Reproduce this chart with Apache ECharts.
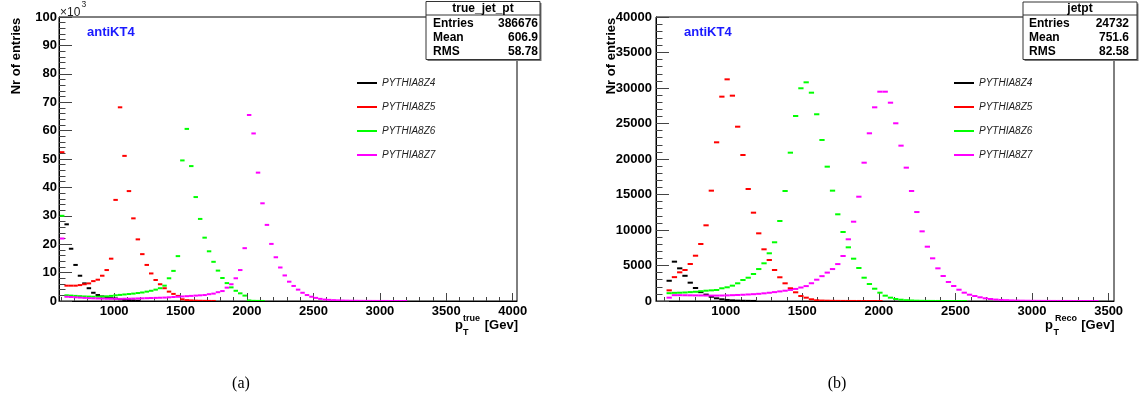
<!DOCTYPE html>
<html>
<head>
<meta charset="utf-8">
<script src="https://cdn.jsdelivr.net/npm/echarts@6/dist/echarts.min.js"></script>
<style>
  html, body { margin: 0; padding: 0; background: #ffffff; }
  #chart { width: 1142px; height: 406px; }
</style>
</head>
<body>
<div id="chart"></div>
<script>
// ---------------------------------------------------------------
// Jet pT spectra per PYTHIA8 slice, anti-kT R=0.4
// (a) truth jets, (b) reconstructed jets
// ---------------------------------------------------------------
const seriesNames  = ['PYTHIA8Z4', 'PYTHIA8Z5', 'PYTHIA8Z6', 'PYTHIA8Z7'];
const seriesColors = ['#000000', '#ff0000', '#00ff00', '#ff00ff'];

// panel (a): truth pT histogram, bin centres start at trueFirstBin
const trueFirstBin = 609;
const trueBinWidth = 33.5;
const trueZ4 = [null, 27000, 18400, 12700, 8900, 6200, 4500, 2900, 2100, 1600, 1200, 1000, 900, 600, 400, 300, 200, 100];
const trueZ5 = [52400, 5400, 5400, 5400, 5600, 5900, 6200, 7000, 7500, 8900, 10900, 14900, 35600, 68200, 51100, 38700,
                29100, 21700, 16500, 12700, 9700, 7400, 5900, 4500, 3300, 2500, 1800, 600, 300, 200, 120, 80, 50, 30, 20];
const trueZ6 = [30000, 2000, 1900, 1800, 1700, 1600, 1550, 1500, 1500, 1550, 1650, 1800, 2000, 2150, 2300, 2450,
                2600, 2800, 3000, 3300, 3600, 4000, 4500, 5400, 8000, 10600, 15800, 49500, 60600, 47500, 36600, 28900,
                22300, 17500, 13800, 10700, 8100, 6300, 4800, 3600, 2700, 1900, 200, 60, 30, 15];
const trueZ7 = [22000, 1500, 1400, 1300, 1200, 1100, 1000, 950, 900, 850, 800, 800, 750, 750, 800, 800,
                850, 900, 950, 1000, 1050, 1100, 1150, 1200, 1300, 1400, 1500, 1600, 1700, 1800, 1900, 2000,
                2100, 2400, 2600, 3100, 3500, 4700, 5900, 8000, 10900, 18600, 65500, 59000, 45200, 34400, 26800, 20100,
                15400, 11800, 9000, 6800, 5300, 4000, 2900, 2100, 1500, 1100, 750, 500, 400, 300, 220, 160,
                120, 90, 70, 55, 45, 35, 28, 22, 17, 13, 10, 8, 6, 4];

// panel (b): reconstructed pT histogram
const recoFirstBin = 631;
const recoBinWidth = 34.4;
const recoZ4 = [2850, 5540, 4600, 3550, 2580, 1830, 1250, 900, 600, 380, 240, 150, 90, 50, 30, 20, 10];
const recoZ5 = [1500, 3360, 4040, 4370, 5210, 6380, 8030, 10660, 15540, 22350, 28780, 31220, 28920, 24550, 20560, 15775,
                12440, 9530, 7280, 5775, 4370, 3340, 2490, 1790, 1225, 700, 470, 240, 100, 60, 40, 25,
                15, 10, 8, 6, 5, 4, 3, 2, 2];
const recoZ6 = [1100, 1150, 1170, 1200, 1250, 1300, 1380, 1450, 1500, 1550, 1790, 1930, 2160, 2490, 2960, 3280,
                3800, 4500, 5310, 6720, 8270, 11270, 15490, 20890, 26060, 29960, 30800, 29340, 26300, 22680, 18920, 15540,
                12210, 9720, 7560, 5960, 4650, 3280, 2390, 1730, 1170, 750, 470, 280, 180, 110, 70, 40,
                25, 15, 10, 6, 4, 3, 2, 2, 1];
const recoZ7 = [470, 820, 820, 810, 800, 790, 780, 770, 760, 760, 770, 790, 820, 850, 880, 920,
                960, 1010, 1080, 1160, 1250, 1350, 1450, 1560, 1700, 1900, 2100, 2500, 3000, 3500, 4000, 4500,
                5200, 6340, 8690, 11170, 14690, 19480, 23620, 27280, 29480, 29480, 27930, 25030, 21880, 18780, 15490, 12530,
                9810, 7650, 6010, 4600, 3520, 2680, 2110, 1590, 1170, 890, 700, 520, 380, 280, 200, 150,
                110, 80, 60, 45, 35, 25, 20, 15, 12, 10, 8, 6, 5, 4, 3, 2, 2, 1];

// axis tick labels
const trueTicks = [1000, 1500, 2000, 2500, 3000, 3500, 4000];
const recoTicks = [1000, 1500, 2000, 2500, 3000, 3500];

// statistics boxes
const trueStats = { title: 'true_jet_pt', rows: [['Entries', '386676'], ['Mean', '606.9'], ['RMS', '58.78']] };
const recoStats = { title: 'jetpt',       rows: [['Entries', '24732'],  ['Mean', '751.6'], ['RMS', '82.58']] };

// ---------------------------------------------------------------
const FONT = '"Liberation Sans", Arial, Helvetica, sans-serif';
const SERIF = '"Liberation Serif", "Times New Roman", serif';

function binned(first, width, values) {
  const out = [];
  values.forEach((v, i) => { if (v != null) out.push([first + i * width, v]); });
  return out;
}

function minorTicks(from, to, step) {
  const t = [];
  for (let v = from; v <= to; v += step) t.push(v);
  return t;
}

function histSeries(name, color, data, axisIndex, width) {
  return {
    type: 'custom',
    name: name,
    xAxisIndex: axisIndex * 2,
    yAxisIndex: axisIndex,
    data: data,
    clip: true,
    z: 5,
    itemStyle: { color: color },
    encode: { x: 0, y: 1 },
    renderItem: function (params, api) {
      const x = api.value(0), y = api.value(1);
      const a = api.coord([x - width / 2, y]);
      const b = api.coord([x + width / 2, y]);
      return {
        type: 'line',
        shape: { x1: a[0], y1: a[1], x2: b[0], y2: b[1] },
        style: { stroke: color, lineWidth: 2 }
      };
    }
  };
}

function xAxes(gridIndex, min, max, ticks) {
  return [
    {
      type: 'value', gridIndex: gridIndex, min: min, max: max, position: 'bottom',
      axisLine: { show: true, lineStyle: { color: '#000', width: 1 } },
      axisTick: { show: true, inside: true, length: 8, customValues: ticks, lineStyle: { color: '#444', width: 1 } },
      axisLabel: { customValues: ticks, margin: 4, fontSize: 13, fontWeight: 'bold', color: '#000', fontFamily: FONT,
                   formatter: v => String(v) },
      splitLine: { show: false }
    },
    {
      type: 'value', gridIndex: gridIndex, min: min, max: max, position: 'bottom',
      axisLine: { show: false },
      axisTick: { show: true, inside: true, length: 4, customValues: minorTicks(600, 4000, 100), lineStyle: { color: '#444', width: 1 } },
      axisLabel: { show: false },
      splitLine: { show: false }
    }
  ];
}

function yAxis(gridIndex, max, interval, margin, formatter) {
  return {
    type: 'value', gridIndex: gridIndex, min: 0, max: max, interval: interval,
    axisLine: { show: true, lineStyle: { color: '#000', width: 1 } },
    axisTick: { show: true, inside: true, length: 13, lineStyle: { color: '#444', width: 1 } },
    minorTick: { show: true, splitNumber: 5, length: 6.5, lineStyle: { color: '#444', width: 1 } },
    axisLabel: { margin: margin, fontSize: 13, fontWeight: 'bold', color: '#000', fontFamily: FONT, formatter: formatter },
    splitLine: { show: false },
    minorSplitLine: { show: false }
  };
}

function statBox(stats, x, y, w, h, textLeft, valueRight) {
  const children = [
    { type: 'rect', shape: { x: x + 1.5, y: y + 1.5, width: w, height: h }, style: { fill: '#777' } },
    { type: 'rect', shape: { x: x, y: y, width: w, height: h }, style: { fill: '#fff', stroke: '#333', lineWidth: 1 } },
    { type: 'line', shape: { x1: x, y1: 15, x2: x + w, y2: 15 }, style: { stroke: '#333', lineWidth: 1 } },
    { type: 'text', style: { text: stats.title, x: x + w / 2, y: 9, align: 'center', verticalAlign: 'middle',
        font: 'bold 12px ' + FONT, fill: '#000' } }
  ];
  const rowY = [24, 37.5, 51.5];
  stats.rows.forEach((r, i) => {
    children.push({ type: 'text', style: { text: r[0], x: textLeft, y: rowY[i], align: 'left', verticalAlign: 'middle',
      font: 'bold 12px ' + FONT, fill: '#000' } });
    children.push({ type: 'text', style: { text: r[1], x: valueRight, y: rowY[i], align: 'right', verticalAlign: 'middle',
      font: 'bold 12px ' + FONT, fill: '#000' } });
  });
  return { type: 'group', z: 100, children: children };
}

function txt(text, x, y, font, opts) {
  return Object.assign({ type: 'text', z: 100,
    style: Object.assign({ text: text, x: x, y: y, font: font, fill: '#000', align: 'left', verticalAlign: 'middle' }, opts || {}) });
}

function legendAt(left) {
  return {
    left: left, top: 77, padding: 0, orient: 'vertical', icon: 'rect', itemWidth: 20, itemHeight: 2, itemGap: 12,
    selectedMode: false, data: seriesNames,
    textStyle: { fontStyle: 'italic', fontSize: 10, lineHeight: 12, color: '#222', fontFamily: FONT, padding: [0, 0, 0, 0] }
  };
}

const allTrue = [trueZ4, trueZ5, trueZ6, trueZ7];
const allReco = [recoZ4, recoZ5, recoZ6, recoZ7];
const series = [];
seriesNames.forEach((n, i) => series.push(histSeries(n, seriesColors[i], binned(trueFirstBin, trueBinWidth, allTrue[i]), 0, trueBinWidth)));
seriesNames.forEach((n, i) => series.push(histSeries(n, seriesColors[i], binned(recoFirstBin, recoBinWidth, allReco[i]), 1, recoBinWidth)));

const chart = echarts.init(document.getElementById('chart'), null, { renderer: 'canvas' });
chart.setOption({
  animation: false,
  backgroundColor: '#ffffff',
  grid: [
    { left: 59, top: 17, width: 458, height: 284, show: true, borderColor: '#000', borderWidth: 1, backgroundColor: 'transparent' },
    { left: 656, top: 17, width: 458, height: 284, show: true, borderColor: '#000', borderWidth: 1, backgroundColor: 'transparent' }
  ],
  xAxis: xAxes(0, 585, 4032, trueTicks).concat(xAxes(1, 545, 3535, recoTicks)),
  yAxis: [
    yAxis(0, 100000, 10000, 2, v => String(v / 1000)),
    yAxis(1, 40000, 5000, 4, v => String(v))
  ],
  legend: [legendAt(357), legendAt(954)],
  series: series,
  graphic: [
    statBox(trueStats, 426, 1.5, 114, 58, 433, 538),
    statBox(recoStats, 1023, 2, 114, 57.5, 1029, 1129),
    // panel labels
    txt('antiKT4', 87, 32, 'bold 13px ' + FONT, { fill: '#1a1aff' }),
    txt('antiKT4', 684, 32, 'bold 13px ' + FONT, { fill: '#1a1aff' }),
    // y titles
    { type: 'text', z: 100, x: 16, y: 56, rotation: Math.PI / 2,
      style: { text: 'Nr of entries', x: 0, y: 0, font: 'bold 13px ' + FONT, fill: '#000', align: 'center', verticalAlign: 'middle' } },
    { type: 'text', z: 100, x: 611.5, y: 56, rotation: Math.PI / 2,
      style: { text: 'Nr of entries', x: 0, y: 0, font: 'bold 13px ' + FONT, fill: '#000', align: 'center', verticalAlign: 'middle' } },
    // multiplier
    txt('\u00d710', 60, 12.5, '12px ' + FONT, { fill: '#222' }),
    txt('3', 81.5, 5, '8.5px ' + FONT, { fill: '#222' }),
    // x titles
    txt('p', 455, 325, 'bold 13px ' + FONT),
    txt('T', 463, 333, 'bold 9px ' + FONT),
    txt('true', 463, 318.5, 'bold 9px ' + FONT),
    txt('[Gev]', 518, 325.5, 'bold 13px ' + FONT, { align: 'right' }),
    txt('p', 1045, 325, 'bold 13px ' + FONT),
    txt('T', 1053.5, 333, 'bold 9px ' + FONT),
    txt('Reco', 1055, 318.5, 'bold 9px ' + FONT),
    txt('[Gev]', 1114.5, 325.5, 'bold 13px ' + FONT, { align: 'right' }),
    // captions
    txt('(a)', 241, 383.5, '16px ' + SERIF, { align: 'center' }),
    txt('(b)', 837, 383.5, '16px ' + SERIF, { align: 'center' })
  ]
});
</script>
</body>
</html>
